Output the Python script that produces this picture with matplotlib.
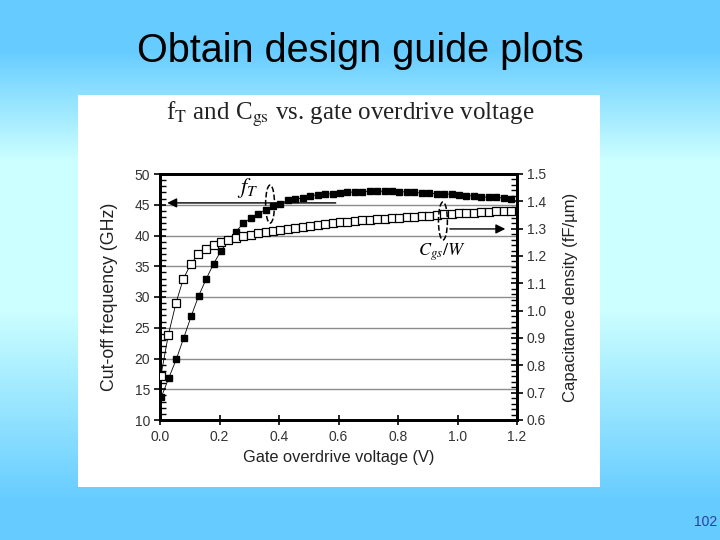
import numpy as np
import matplotlib
matplotlib.use("Agg")
import matplotlib.pyplot as plt
from matplotlib.patches import Ellipse, Rectangle
from matplotlib.ticker import MultipleLocator

# ----------------------------------------------------------------------
# data (fT on left axis, Cgs/W on right axis)
# ----------------------------------------------------------------------
vov_ft = [0.005, 0.03, 0.055, 0.08, 0.105, 0.13, 0.155, 0.18, 0.205, 0.23,
          0.255, 0.28, 0.305, 0.33, 0.355, 0.38, 0.405, 0.43, 0.455, 0.48,
          0.505, 0.53, 0.555, 0.58, 0.605, 0.63, 0.655, 0.68, 0.705, 0.73,
          0.755, 0.78, 0.805, 0.83, 0.855, 0.88, 0.905, 0.93, 0.955, 0.98,
          1.005, 1.03, 1.055, 1.08, 1.105, 1.13, 1.155, 1.18]
ft_ghz = [13.8, 16.9, 19.9, 23.4, 26.9, 30.2, 32.9, 35.4, 37.5, 39.2,
          40.6, 42.0, 42.8, 43.5, 44.2, 44.8, 45.2, 45.7, 45.9, 46.1,
          46.5, 46.6, 46.7, 46.8, 46.9, 47.0, 47.1, 47.1, 47.2, 47.2,
          47.2, 47.2, 47.1, 47.1, 47.0, 46.9, 46.9, 46.8, 46.8, 46.7,
          46.6, 46.5, 46.4, 46.3, 46.2, 46.2, 46.1, 46.0]

vov_cgs = [0.003, 0.028, 0.054, 0.078, 0.104, 0.129, 0.155, 0.18, 0.205, 0.23,
           0.255, 0.28, 0.305, 0.33, 0.355, 0.38, 0.405, 0.43, 0.455, 0.48,
           0.505, 0.53, 0.555, 0.58, 0.605, 0.63, 0.655, 0.68, 0.705, 0.73,
           0.755, 0.78, 0.805, 0.83, 0.855, 0.88, 0.905, 0.93, 0.955, 0.98,
           1.005, 1.03, 1.055, 1.08, 1.105, 1.13, 1.155, 1.18]
cgs_density = [0.762, 0.911, 1.029, 1.115, 1.172, 1.206, 1.227, 1.240, 1.250, 1.259,
               1.267, 1.273, 1.278, 1.283, 1.289, 1.293, 1.295, 1.300, 1.304, 1.307,
               1.311, 1.315, 1.318, 1.321, 1.324, 1.326, 1.328, 1.330, 1.332, 1.334,
               1.336, 1.338, 1.340, 1.342, 1.344, 1.346, 1.348, 1.350, 1.352, 1.354,
               1.356, 1.357, 1.359, 1.361, 1.362, 1.364, 1.365, 1.366]

plt.rcParams["font.family"] = ["Liberation Sans", "DejaVu Sans"]
plt.rcParams["mathtext.fontset"] = "stix"

fig = plt.figure(figsize=(7.2, 5.4), dpi=100)

# slide background: blue -> pale cyan -> blue
bg = fig.add_axes([0, 0, 1, 1], zorder=-10)
yy = np.arange(540)
t = np.interp(yy, [0, 50, 160, 310, 500, 540], [0, 0, 1, 1, 0, 0])
blue = np.array([0x66, 0xCC, 0xFF]) / 255
pale = np.array([0xCC, 0xFF, 0xFF]) / 255
grad = blue[None, :] + t[:, None] * (pale - blue)[None, :]
bg.imshow(np.repeat(grad[:, None, :], 2, axis=1), aspect="auto",
          extent=[0, 1, 0, 1], origin="upper")
bg.axis("off")

# white panel behind the chart
fig.patches.append(Rectangle((78 / 720, 1 - 487 / 540), 522 / 720, 392 / 540,
                             transform=fig.transFigure, facecolor="white",
                             edgecolor="none", zorder=-5))

fig.text(0.5, 1 - 51 / 540, "Obtain design guide plots", ha="center", va="center",
         fontsize=28.5, color="black")
fig.text(0.486, 1 - 114 / 540,
         r"f$_{\mathrm{T}}$ and C$_{\mathrm{gs}}$ vs. gate overdrive voltage",
         ha="center", va="center", fontsize=18, family="Liberation Serif",
         color="#222222")
fig.text(706 / 720, 1 - 522 / 540, "102", ha="center", va="center",
         fontsize=10, color="#2a3f9f")

ax = fig.add_axes([160 / 720, 1 - 420 / 540, 357 / 720, 246 / 540])
ax.set_facecolor("none")
ax2 = ax.twinx()

for y in range(15, 50, 5):
    ax.axhline(y, color="#8c8c8c", lw=1.0, zorder=0)

ax.plot(vov_ft, ft_ghz, color="black", lw=0.6, marker="s", ms=4.3,
        mfc="black", mec="black", zorder=3)
ax2.plot(vov_cgs, cgs_density, color="black", lw=0.6, marker="s", ms=6.2,
         mfc="white", mec="black", mew=0.9, zorder=3)

ax.set_xlim(0, 1.2)
ax.set_ylim(10, 50)
ax2.set_ylim(0.6, 1.5)
ax.xaxis.set_major_locator(MultipleLocator(0.2))
ax.yaxis.set_major_locator(MultipleLocator(5))
ax.yaxis.set_minor_locator(MultipleLocator(1))
ax2.yaxis.set_major_locator(MultipleLocator(0.1))
ax2.yaxis.set_minor_locator(MultipleLocator(0.02))
ax.xaxis.set_major_formatter(plt.FuncFormatter(lambda v, p: f"{v:.1f}"))
ax2.yaxis.set_major_formatter(plt.FuncFormatter(lambda v, p: f"{v:.1f}"))

for a in (ax, ax2):
    for s in a.spines.values():
        s.set_linewidth(2.0)
ax.tick_params(axis="x", which="major", direction="inout", length=7, width=1.2,
               labelsize=10, pad=4, colors="black")
ax.tick_params(axis="y", which="major", direction="inout", length=8, width=1.2,
               labelsize=10, pad=3)
ax.tick_params(axis="y", which="minor", direction="in", length=4, width=1.0)
ax2.tick_params(axis="y", which="major", direction="inout", length=8, width=1.2,
                labelsize=10, pad=3)
ax2.tick_params(axis="y", which="minor", direction="in", length=4, width=1.0)

for lab in ax.get_xticklabels() + ax.get_yticklabels() + ax2.get_yticklabels():
    lab.set_color("#333333")

ax.set_xlabel("Gate overdrive voltage (V)", fontsize=11.8, color="#222222", labelpad=4)
ax.set_ylabel("Cut-off frequency (GHz)", fontsize=12.8, color="#222222", labelpad=12)
ax2.set_ylabel("Capacitance density (fF/\u00b5m)", fontsize=12, color="#222222",
               labelpad=12)

# fT annotation: dashed ellipse, label and arrow to the left axis
ax.add_patch(Ellipse((0.37, 45.1), 0.03, 6.2, fill=False, ls="--", lw=1.1,
                     color="black", zorder=4))
ax.text(0.296, 47.7, r"$f_T$", fontsize=16, ha="center", va="center")
ax.annotate("", xy=(0.015, 45.3), xytext=(0.6, 45.3),
            arrowprops=dict(arrowstyle="-|>", lw=1.0, color="black",
                            mutation_scale=14), zorder=4)

# Cgs/W annotation: dashed ellipse, label and arrow to the right axis
ax2.add_patch(Ellipse((0.951, 1.328), 0.03, 0.139, fill=False, ls="--", lw=1.1,
                      color="black", zorder=4))
ax2.text(0.948, 1.215, r"$C_{gs}/W$", fontsize=13, ha="center", va="center")
ax2.annotate("", xy=(1.17, 1.299), xytext=(0.965, 1.299),
             arrowprops=dict(arrowstyle="-|>", lw=1.0, color="black",
                             mutation_scale=14), zorder=4)

fig.savefig("out.png", dpi=100)
